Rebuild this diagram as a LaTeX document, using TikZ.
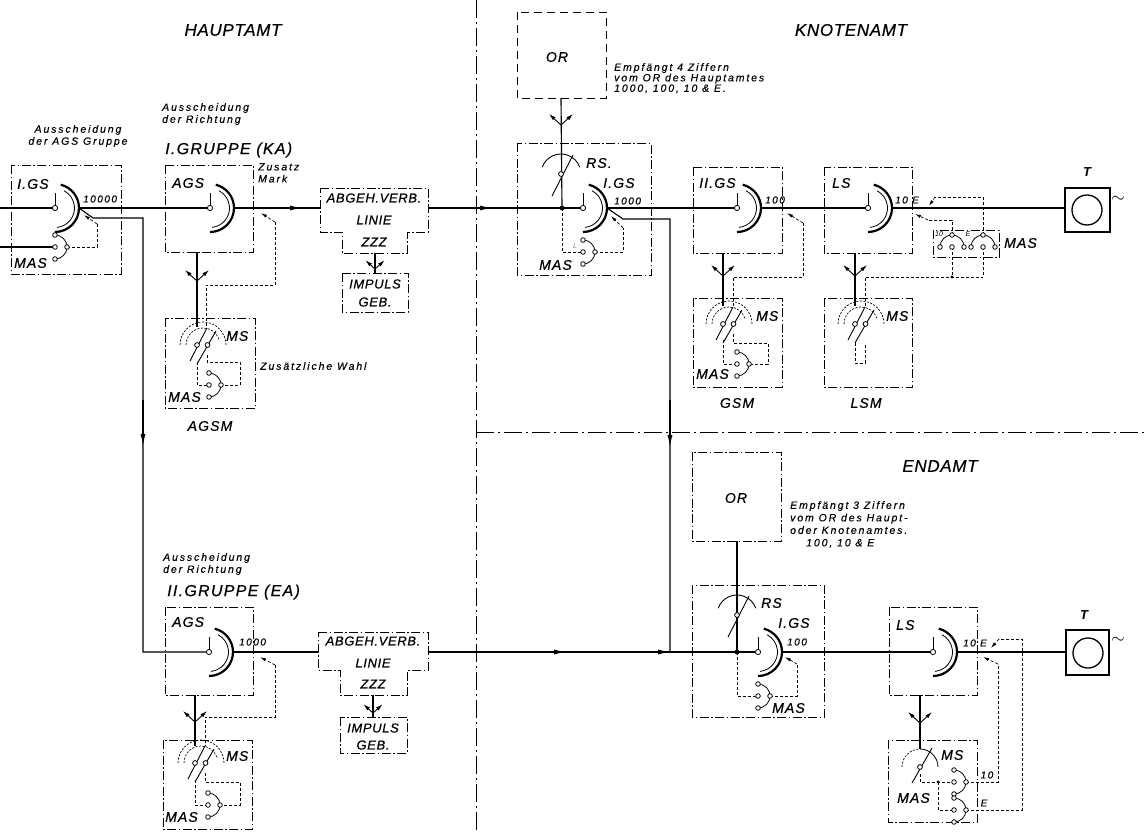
\documentclass[tikz,border=0pt]{standalone}
\usepackage{fontspec}
\setmainfont{Liberation Sans}
\usetikzlibrary{arrows.meta}

\tikzset{
  gs/.pic={
    \draw[line width=0.9pt] (0,0) -- (0,-15);
    \draw[line width=2.2pt] (-90:24pt) arc[start angle=-90,end angle=76,radius=24pt];
    \draw[line width=0.8pt] (-84:19.5pt) arc[start angle=-84,end angle=62,radius=19.5pt];
    \draw[line width=0.8pt,fill=white] (0,0) circle[radius=2.6pt];
  },
  mas/.pic={
    \draw[line width=0.8pt] (0,-12) arc[start angle=90,end angle=-90,radius=12pt];
    \foreach \a/\b in {0/-12,0/0,12/0,0/12}
      \draw[line width=0.8pt,fill=white] (\a,\b) circle[radius=2.3pt];
  },
  msd/.pic={
    \draw[line width=0.7pt,dash pattern=on 2pt off 1.5pt] (-17,0) arc[start angle=180,end angle=0,radius=23pt];
    \draw[line width=0.7pt,dash pattern=on 2pt off 1.5pt] (-11,0) arc[start angle=180,end angle=20,radius=17pt];
    \draw[line width=0.9pt] (-7,16) -- (10,-17) (0,19) -- (19,-14);
    \draw[line width=0.8pt,fill=white] (0,0) circle[radius=2.4pt] (10.5,0) circle[radius=2.4pt];
  },
  mss/.pic={
    \draw[line width=0.7pt,dash pattern=on 2pt off 1.5pt] (-18,0) arc[start angle=180,end angle=90,radius=18pt];
    \draw[line width=0.8pt] (0,-18) arc[start angle=90,end angle=0,radius=18pt];
    \draw[line width=0.9pt] (-8,16) -- (12,-19);
    \draw[line width=0.8pt,fill=white] (0,0) circle[radius=2.4pt];
  },
  rs/.pic={
    \draw[line width=0.9pt] (160:20pt) arc[start angle=160,end angle=20,radius=20pt];
    \draw[line width=0.9pt] (-9,22) -- (12,-19);
    \draw[line width=0.8pt,fill=white] (0,0) circle[radius=2.4pt];
  },
  fork/.pic={
    \draw[line width=0.9pt,-{Latex[length=7pt,width=4pt]}] (0,0) -- (-12,-11);
    \draw[line width=0.9pt,-{Latex[length=7pt,width=4pt]}] (0,0) -- (12,-11);
  },
}

\begin{document}
\begin{tikzpicture}[x=1pt,y=-1pt,>={Latex[length=12pt,width=5pt]},
  wire/.style={line width=1.15pt},
  ctl/.style={line width=0.7pt,dash pattern=on 3pt off 2pt,>={Latex[length=6pt,width=3.2pt]}},
  unit/.style={line width=0.9pt,dash pattern=on 9pt off 2.5pt on 1.5pt off 2.5pt},
  border/.style={line width=0.8pt,dash pattern=on 18pt off 4pt on 2pt off 4pt},
  lbl/.style={font=\fontsize{14}{16}\selectfont\itshape\addfontfeature{LetterSpace=8,FakeBold=0.6},inner sep=0pt},
  big/.style={font=\fontsize{17}{20}\selectfont\itshape\addfontfeature{LetterSpace=4,FakeBold=0.6},inner sep=0pt},
  box/.style={font=\fontsize{13}{15}\selectfont\itshape\addfontfeature{LetterSpace=5,FakeBold=0.6},inner sep=0pt},
  note/.style={font=\fontsize{10.5}{12}\selectfont\itshape\addfontfeature{LetterSpace=18,FakeBold=0.4},inner sep=0pt,align=left},
  num/.style={font=\fontsize{10}{11}\selectfont\itshape\addfontfeature{LetterSpace=15,FakeBold=0.4},inner sep=0pt},
  tiny/.style={font=\fontsize{7}{8}\selectfont\itshape,inner sep=0pt},
  ]
\useasboundingbox (0,0) rectangle (1145,832);

% Trennlinien
\draw[border] (476,0) -- (476,832);
\draw[border] (476,432) -- (1145,432);
\node[big] (tHA) at (233,30) {HAUPTAMT};
\node[big] (tKA) at (851,30) {KNOTENAMT};
\node[big] (tEA) at (940,466) {ENDAMT};

% Kontakte
\coordinate (gs1) at (55,208);
\coordinate (ags1) at (210,208);
\coordinate (gs2) at (583,208);
\coordinate (gs3) at (737,208);
\coordinate (ls1) at (868,208);
\coordinate (ags2) at (209,652);
\coordinate (gs4) at (758,652);
\coordinate (ls2) at (933,652);
\coordinate (jk) at (562,208);
\coordinate (je) at (737,652);
\coordinate (tk) at (1065,208);
\coordinate (te) at (1066,652);

% Leitungen oben
\draw[wire] (0,208) -- (gs1);
\draw[wire] ([xshift=24pt]gs1) -- (ags1);
\draw[wire] ([xshift=24pt]gs1) -- ++(14,10) -- (143,218) -- (143,652) -- (ags2);
\draw[wire,->] (143,400) -- (143,446);
\draw[wire] ([xshift=24pt]ags1) -- (320,208);
\draw[wire,->] (260,208) -- (302,208);
\draw[wire] (428,208) -- (gs2);
\draw[wire,->] (440,208) -- (492,208);
\draw[wire] ([xshift=24pt]gs2) -- (gs3);
\draw[wire] ([xshift=24pt]gs2) -- ++(16,11) -- (670,219) -- (670,652);
\draw[wire,->] (670,400) -- (670,447);
\draw[wire] ([xshift=24pt]gs3) -- (ls1);
\draw[wire] ([xshift=24pt]ls1) -- (tk);
\draw[wire] (561,98) -- (jk);
\fill (jk) circle[radius=2.4pt];

% Leitungen unten
\draw[wire] ([xshift=24pt]ags2) -- (318,652);
\draw[wire] (428,652) -- (gs4);
\draw[wire,->] (520,652) -- (566,652);
\draw[wire,->] (630,652) -- (670,652);
\draw[wire] ([xshift=24pt]gs4) -- (ls2);
\draw[wire] ([xshift=24pt]ls2) -- (te);
\draw[wire] (737,541) -- (je);
\fill (je) circle[radius=2.4pt];

% HAUPTAMT, Ausscheidung der AGS Gruppe
\node[note,align=center] (nAGS) at (78,136) {Ausscheidung\\der AGS Gruppe};
\draw[unit] (11,165) rectangle (121,274);
\node[lbl,anchor=west] (lIGS) at (17,184) {I.GS};
\node[num,anchor=west] (n10000) at (83,199) {10000};
\draw[wire] (0,247) -- (55,247);
\draw[ctl] (67,247) -- (97,247) -- (97,224);
\draw[ctl,->] (97,224) -- (84,215);
\pic at (gs1) {gs};
\pic at (55,247) {mas};
\node[lbl,anchor=west] (lMAS1) at (14,263) {MAS};

% I. Gruppe
\node[note,anchor=north west] (nKA) at (162,103) {Ausscheidung\\der Richtung};
\node[lbl,anchor=west,font=\fontsize{16}{18}\selectfont\itshape\addfontfeature{LetterSpace=8,FakeBold=0.6}] (lKA) at (165,150) {I.GRUPPE (KA)};
\draw[unit] (165,165) rectangle (253,252);
\node[lbl,anchor=west] (lAGS1) at (172,183) {AGS};
\node[note,anchor=north west] (nZus) at (258,163) {Zusatz\\Mark};
\draw[ctl] (275,222) -- (275,285) -- (206,285) -- (206,327);
\draw[ctl,->] (275,222) -- (261,213);
\draw[wire] (197,252) -- (197,327);
\pic at (197,281) {fork};
\pic at (ags1) {gs};
\draw[unit] (165,318) rectangle (255,408);
\draw[ctl] (207,355) -- (207,362) -- (240,362) -- (240,385) -- (221,385);
\draw[ctl] (197,362) -- (197,385) -- (209,385);
\pic at (197,345) {msd};
\pic at (209,385) {mas};
\node[lbl,anchor=west] (lMS1) at (226,336) {MS};
\node[lbl,anchor=west] (lMAS2) at (168,397) {MAS};
\node[lbl] (lAGSM) at (210,426) {AGSM};
\node[note,anchor=west] (nWahl) at (260,366) {Zus\"atzliche Wahl};

% Abgehende Verbindungslinie oben
\draw[unit] (320,188) -- (428,188) -- (428,232) -- (407,232) -- (407,253) -- (342,253) -- (342,232) -- (320,232) -- cycle;
\node[box] (lAV1) at (374,198) {ABGEH.VERB.};
\node[box] (lLI1) at (374,220) {LINIE};
\node[box] (lZ1) at (374,242) {ZZZ};
\draw[wire] (375,253) -- (375,273);
\pic[scale=0.8] at (375,269) {fork};
\draw[unit] (342,273) rectangle (408,312);
\node[box] (lIM1) at (375,284) {IMPULS};
\node[box] (lGE1) at (375,302) {GEB.};

% KNOTENAMT
\draw[line width=0.9pt,dash pattern=on 8pt off 5pt] (517,12) rectangle (606,98);
\node[lbl] (lOR1) at (557,57) {OR};
\node[note,anchor=north west,font=\fontsize{10.5}{10.5}\selectfont\itshape\addfontfeature{LetterSpace=18,FakeBold=0.4}] (nOR1) at (614,63) {Empf\"angt 4 Ziffern\\vom OR des Hauptamtes\\1000, 100, 10 \& E.};
\pic at (561,125) {fork};
\draw[unit] (517,143) rectangle (651,275);
\node[lbl,anchor=west] (lRS1) at (586,163) {RS.};
\node[lbl,anchor=west] (lIGS2) at (603,183) {I.GS};
\node[num,anchor=west] (n1000a) at (614,201) {1000};
\draw[ctl] (jk) -- (562,252) -- (583,252);
\draw[ctl] (595,252) -- (623,252) -- (623,228);
\draw[ctl,->] (623,228) -- (611,216);
\pic at (561,174) {rs};
\pic at (gs2) {gs};
\pic at (583,252) {mas};
\node[tiny,gray] (lL) at (575,246) {L};
\node[lbl,anchor=west] (lMAS3) at (539,265) {MAS};

% II. GS und GSM
\draw[unit] (693,167) rectangle (782,253);
\node[lbl,anchor=west] (lIIGS) at (699,183) {II.GS};
\node[num,anchor=west] (n100a) at (765,200) {100};
\draw[ctl] (803,223) -- (803,277) -- (733,277) -- (733,306);
\draw[ctl,->] (803,223) -- (787,213);
\draw[wire] (723,253) -- (723,306);
\pic at (723,276) {fork};
\pic at (gs3) {gs};
\draw[unit] (693,298) rectangle (782,387);
\draw[ctl] (733,334) -- (733,343) -- (768,343) -- (768,364) -- (749,364);
\draw[ctl] (723,340) -- (723,364) -- (737,364);
\pic at (723,324) {msd};
\pic at (737,364) {mas};
\node[lbl,anchor=west] (lMS2) at (756,316) {MS};
\node[lbl,anchor=west] (lMAS4) at (696,374) {MAS};
\node[lbl] (lGSM) at (737,403) {GSM};

% LS und LSM
\draw[unit] (824,167) rectangle (912,253);
\node[lbl,anchor=west] (lLS1) at (832,183) {LS};
\node[num,anchor=west] (n10E1) at (895,200) {10 E};
\draw[wire] (855,253) -- (855,306);
\pic at (855,276) {fork};
\pic at (ls1) {gs};
\draw[unit] (824,298) rectangle (912,387);
\draw[ctl] (865,306) -- (865,277) -- (983,277);
\draw[ctl] (855,343) -- (855,363) -- (865,363) -- (865,343);
\pic at (855,324) {msd};
\node[lbl,anchor=west] (lMS3) at (886,316) {MS};
\node[lbl] (lLSM) at (866,403) {LSM};

% MAS doppelt
\draw[unit,line width=0.7pt] (933,230) rectangle (999,257);
\draw[ctl] (952,247) -- (952,277);
\draw[ctl] (983,247) -- (983,277);
\fill (952,277) circle[radius=1.6pt];
\draw[ctl] (952,235) -- (952,220) -- (928,220);
\draw[ctl,->] (928,220) -- (915,214);
\draw[ctl] (983,235) -- (983,197) -- (935,197);
\draw[ctl,->] (935,197) -- (929,206);
\pic[rotate=90] at (952,247) {mas};
\pic[rotate=90] at (983,247) {mas};
\node[tiny] (l10a) at (939,234) {10};
\node[tiny] (lEa) at (968,234) {E};
\node[lbl,anchor=west] (lMAS5) at (1004,243) {MAS};

% Teilnehmer Knotenamt
\draw[line width=1.6pt] (tk) ++(0,-20) rectangle (1110,232);
\draw[line width=1.3pt] (1087,210) circle[radius=15pt];
\node[lbl,font=\fontsize{13}{15}\selectfont\bfseries\itshape] (lT1) at (1087,172) {T};
\node[font=\fontsize{16}{16}\selectfont] (lw1) at (1118,199) {$\sim$};

% ENDAMT
\draw[unit] (692,452) rectangle (781,541);
\node[lbl] (lOR2) at (736,498) {OR};
\node[note,anchor=north west,font=\fontsize{10.5}{12.5}\selectfont\itshape\addfontfeature{LetterSpace=18,FakeBold=0.4}] (nOR2) at (790,501) {Empf\"angt 3 Ziffern\\vom OR des Haupt-\\oder Knotenamtes.\\\hspace*{16pt}100, 10 \& E};
\draw[unit] (692,585) rectangle (824,717);
\node[lbl,anchor=west] (lRS2) at (761,603) {RS};
\node[lbl,anchor=west] (lIGS3) at (778,623) {I.GS};
\node[num,anchor=west] (n100b) at (787,642) {100};
\draw[ctl] (je) -- (737,696) -- (758,696);
\draw[ctl] (770,696) -- (797,696) -- (797,664);
\draw[ctl,->] (797,664) -- (785,657);
\pic at (737,615) {rs};
\pic at (gs4) {gs};
\pic at (758,696) {mas};
\node[lbl,anchor=west] (lMAS6) at (772,708) {MAS};

\draw[unit] (889,607) rectangle (977,695);
\node[lbl,anchor=west] (lLS2) at (896,625) {LS};
\node[num,anchor=west] (n10E2) at (963,643) {10 E};
\draw[wire] (920,695) -- (920,749);
\pic at (920,723) {fork};
\pic at (ls2) {gs};
\draw[unit] (888,740) rectangle (977,822);
\draw[ctl] (966,782) -- (998,782) -- (998,664);
\draw[ctl,->] (998,664) -- (983,657);
\draw[ctl] (966,810) -- (1022,810) -- (1022,639) -- (999,639);
\draw[ctl,->] (999,639) -- (991,648);
\draw[ctl] (920,774) -- (920,782) -- (954,782);
\draw[ctl] (938,782) -- (938,810) -- (954,810);
\fill (938,782) circle[radius=1.6pt];
\pic at (920,767) {mss};
\pic at (954,782) {mas};
\pic at (954,810) {mas};
\node[lbl,anchor=west] (lMS4) at (941,755) {MS};
\node[lbl,anchor=west] (lMAS7) at (897,798) {MAS};
\node[num] (l10b) at (987,775) {10};
\node[num] (lEb) at (984,803) {E};

% Teilnehmer Endamt
\draw[line width=1.6pt] (1066,630) rectangle (1109,675);
\draw[line width=1.3pt] (1088,653) circle[radius=15pt];
\node[lbl,font=\fontsize{13}{15}\selectfont\bfseries\itshape] (lT2) at (1084,615) {T};
\node[font=\fontsize{16}{16}\selectfont] (lw2) at (1118,640) {$\sim$};

% II. Gruppe
\node[note,anchor=north west] (nEA) at (163,553) {Ausscheidung\\der Richtung};
\node[lbl,anchor=west,font=\fontsize{16}{18}\selectfont\itshape\addfontfeature{LetterSpace=8,FakeBold=0.6}] (lEA) at (167,592) {II.GRUPPE (EA)};
\draw[unit] (165,607) rectangle (253,695);
\node[lbl,anchor=west] (lAGS2) at (172,622) {AGS};
\node[num,anchor=west] (n1000b) at (239,642) {1000};
\draw[ctl] (275,665) -- (275,717) -- (205,717) -- (205,746);
\draw[ctl,->] (275,665) -- (260,657);
\draw[wire] (195,695) -- (195,746);
\pic at (195,722) {fork};
\pic at (ags2) {gs};
\draw[unit] (163,740) -- (163,829) -- (252,829) -- (252,740) -- cycle;
\draw[ctl] (205,773) -- (205,782) -- (240,782) -- (240,805) -- (220,805);
\draw[ctl] (195,780) -- (195,805) -- (208,805);
\pic at (195,763) {msd};
\pic at (208,805) {mas};
\node[lbl,anchor=west] (lMS5) at (226,756) {MS};
\node[lbl,anchor=west] (lMAS8) at (165,817) {MAS};

% Abgehende Verbindungslinie unten
\draw[unit] (318,632) -- (428,632) -- (428,670) -- (407,670) -- (407,695) -- (340,695) -- (340,670) -- (318,670) -- cycle;
\node[box] (lAV2) at (373,641) {ABGEH.VERB.};
\node[box] (lLI2) at (373,663) {LINIE};
\node[box] (lZ2) at (373,684) {ZZZ};
\draw[wire] (373,695) -- (373,717);
\pic[scale=0.8] at (373,713) {fork};
\draw[unit] (340,717) rectangle (407,753);
\node[box] (lIM2) at (373,728) {IMPULS};
\node[box] (lGE2) at (373,745) {GEB.};
\end{tikzpicture}
\end{document}
